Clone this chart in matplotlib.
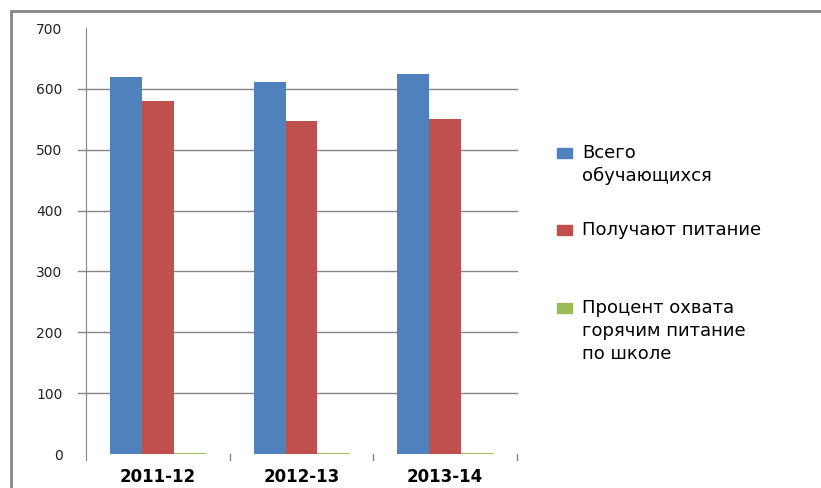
import numpy as np
import matplotlib
matplotlib.use('Agg')
import matplotlib.pyplot as plt
from matplotlib.patches import Rectangle

years = ['2011-12', '2012-13', '2013-14']
total = [620, 611, 625]
fed = [580, 548, 551]
share = [0.94, 0.90, 0.88]
labels = ['Всего\nобучающихся', 'Получают питание',
          'Процент охвата\nгорячим питание\nпо школе']
colors = ['#4F81BD', '#C0504D', '#9BBB59']
yticks = [0, 100, 200, 300, 400, 500, 600, 700]

plt.rcParams['font.family'] = ['DejaVu Sans']

W, H = 821, 488
fig = plt.figure(figsize=(W / 100, H / 100), dpi=100)
ax = fig.add_axes([86/W, 1 - 454/H, (517 - 86)/W, (454 - 28)/H])

x = np.arange(len(years))
w = 32 / 143.7
for k, vals in enumerate([total, fed, share]):
    ax.bar(x + (k - 1) * w, vals, width=w, color=colors[k], label=labels[k])

ax.set_xlim(-0.5, 2.5)
ax.set_ylim(0, 700)
ax.set_yticks(yticks)
ax.set_yticklabels([str(v) for v in yticks], fontsize=10, color='#222222')
ax.set_xticks(x)
ax.set_xticklabels(years, fontsize=12, fontweight='bold')
ax.tick_params(axis='x', length=0, pad=10)
ax.tick_params(axis='y', length=0, pad=17)

# gridlines with tick stubs
for v in yticks[1:-1]:
    ax.plot([-0.5 - 8/143.7, 2.5], [v, v], color='#868686', lw=1,
            zorder=0, clip_on=False)
# ticks between categories
for xb in [0.5, 1.5, 2.5]:
    ax.plot([xb, xb], [0, -6/0.6086], color='#868686', lw=1, clip_on=False)

for s in ['top', 'right', 'bottom']:
    ax.spines[s].set_visible(False)
ax.spines['left'].set_color('#868686')
ax.spines['left'].set_bounds(-10, 700)

# legend drawn by hand so the swatch sits on the first line
baselines = [158, 235, 313]
for lab, col, yb in zip(labels, colors, baselines):
    fig.add_artist(Rectangle((557/W, 1 - 158/H + (158 - yb)/H), 15/W, 10/H,
                             transform=fig.transFigure, color=col))
    fig.text(582/W, 1 - yb/H, lab.split('\n')[0], fontsize=13,
             va='baseline', ha='left')
    for j, line in enumerate(lab.split('\n')[1:], start=1):
        fig.text(582/W, 1 - (yb + 23 * j)/H, line, fontsize=13,
                 va='baseline', ha='left')

fig.add_artist(Rectangle((11/W, -0.05), 1.1, 1 - 11/H + 0.05,
                         transform=fig.transFigure, fill=False,
                         edgecolor='#868686', lw=2))

fig.savefig('out.png', dpi=100)
